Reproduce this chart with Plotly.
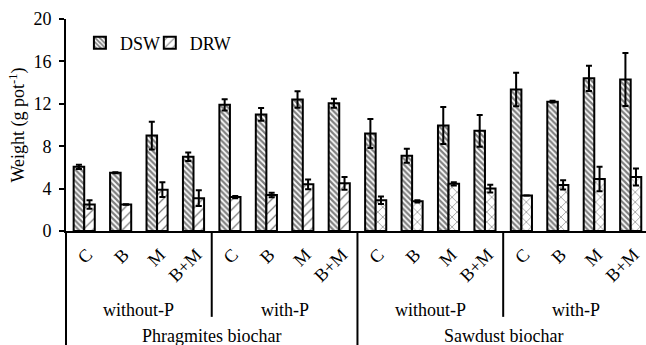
import plotly.graph_objects as go

treatments = ["C", "B", "M", "B+M"]
p_levels = ["without-P", "with-P"]
biochars = ["Phragmites biochar", "Sawdust biochar"]

dsw = [6.05, 5.5, 9.0, 7.0, 11.9, 11.0, 12.4, 12.05, 9.2, 7.1, 9.95, 9.45, 13.35, 12.2, 14.4, 14.3]
dsw_err = [0.2, 0.05, 1.3, 0.4, 0.53, 0.6, 0.78, 0.42, 1.37, 0.65, 1.75, 1.5, 1.57, 0.08, 1.2, 2.5]
drw = [2.5, 2.5, 3.9, 3.1, 3.2, 3.4, 4.4, 4.5, 2.9, 2.8, 4.45, 4.0, 3.35, 4.35, 4.9, 5.1]
drw_err = [0.4, 0.03, 0.7, 0.75, 0.1, 0.22, 0.47, 0.6, 0.35, 0.1, 0.15, 0.37, 0.0, 0.44, 1.16, 0.8]

y_ticks = [0, 4, 8, 12, 16, 20]

labels = [t for b in biochars for p in p_levels for t in treatments]
xs = list(range(len(labels)))
n_t = len(treatments)
n_bp = len(p_levels) * n_t

FONT = "Liberation Serif, Times New Roman, serif"

drw_shapes = ["/" if i < n_bp else "x" for i in xs]

fig = go.Figure()
fig.add_trace(go.Bar(
    x=xs, y=dsw, name="DSW", legend="legend",
    marker=dict(color="white", line=dict(color="black", width=2),
                pattern=dict(shape="\\", fgcolor="black", bgcolor="white", size=4, solidity=0.55)),
    error_y=dict(type="data", array=dsw_err, visible=True, color="black", thickness=2, width=3),
))
fig.add_trace(go.Bar(
    x=xs, y=drw, name="DRW", legend="legend2",
    marker=dict(color="white", line=dict(color="black", width=2),
                pattern=dict(shape=drw_shapes, fgcolor="black", bgcolor="white", size=7, solidity=0.18)),
    error_y=dict(type="data", array=drw_err, visible=True, color="black", thickness=2, width=3),
))

shapes = []
shapes.append(dict(type="line", xref="paper", yref="paper", x0=0, x1=0, y0=0, y1=-0.6,
                   line=dict(color="black", width=2)))
for k in range(1, len(biochars) * len(p_levels)):
    xpos = k * n_t - 0.5
    outer = (k % len(p_levels) == 0)
    shapes.append(dict(type="line", xref="x", yref="paper", x0=xpos, x1=xpos,
                       y0=0, y1=-0.6 if outer else -0.405,
                       line=dict(color="black", width=2)))

annotations = []
k = 0
for bi, b in enumerate(biochars):
    for pi, p in enumerate(p_levels):
        center = k * n_t + (n_t - 1) / 2
        annotations.append(dict(x=center, y=-0.373, xref="x", yref="paper", text=p,
                                showarrow=False, font=dict(family=FONT, size=18, color="black"),
                                xanchor="center", yanchor="middle"))
        k += 1
    center = bi * n_bp + (n_bp - 1) / 2
    annotations.append(dict(x=center, y=-0.495, xref="x", yref="paper", text=b,
                            showarrow=False, font=dict(family=FONT, size=18, color="black"),
                            xanchor="center", yanchor="middle"))

leg_common = dict(orientation="h", y=0.887, xanchor="left", yanchor="middle",
                  font=dict(family=FONT, size=18, color="black"), itemwidth=30,
                  bgcolor="rgba(0,0,0,0)")

fig.update_layout(
    width=646, height=345,
    margin=dict(l=66, r=0, t=19, b=114),
    paper_bgcolor="white", plot_bgcolor="white",
    barmode="group", bargap=0.42, bargroupgap=0,
    font=dict(family=FONT, size=18, color="black"),
    showlegend=True,
    legend=dict(x=0.024, **leg_common),
    legend2=dict(x=0.1445, **leg_common),
    xaxis=dict(range=[-0.5, 15.42], tickmode="array", tickvals=xs, ticktext=labels,
               tickangle=-45, showticklabels=True, ticklabelstandoff=4, ticklabelshift=3,
               showgrid=False, showline=True, linecolor="black", linewidth=2,
               ticks="", zeroline=False, tickfont=dict(family=FONT, size=18)),
    yaxis=dict(range=[0, 20], tickmode="array", tickvals=y_ticks, showgrid=False,
               showline=True, linecolor="black", linewidth=2, ticks="outside", ticklen=5,
               tickwidth=1.5, tickcolor="black", zeroline=False, ticklabelstandoff=4,
               tickfont=dict(family=FONT, size=18),
               title=dict(text="Weight (g pot<sup>-1</sup>)", font=dict(family=FONT, size=18), standoff=4)),
    shapes=shapes, annotations=annotations,
)

fig.write_html("out.html")
